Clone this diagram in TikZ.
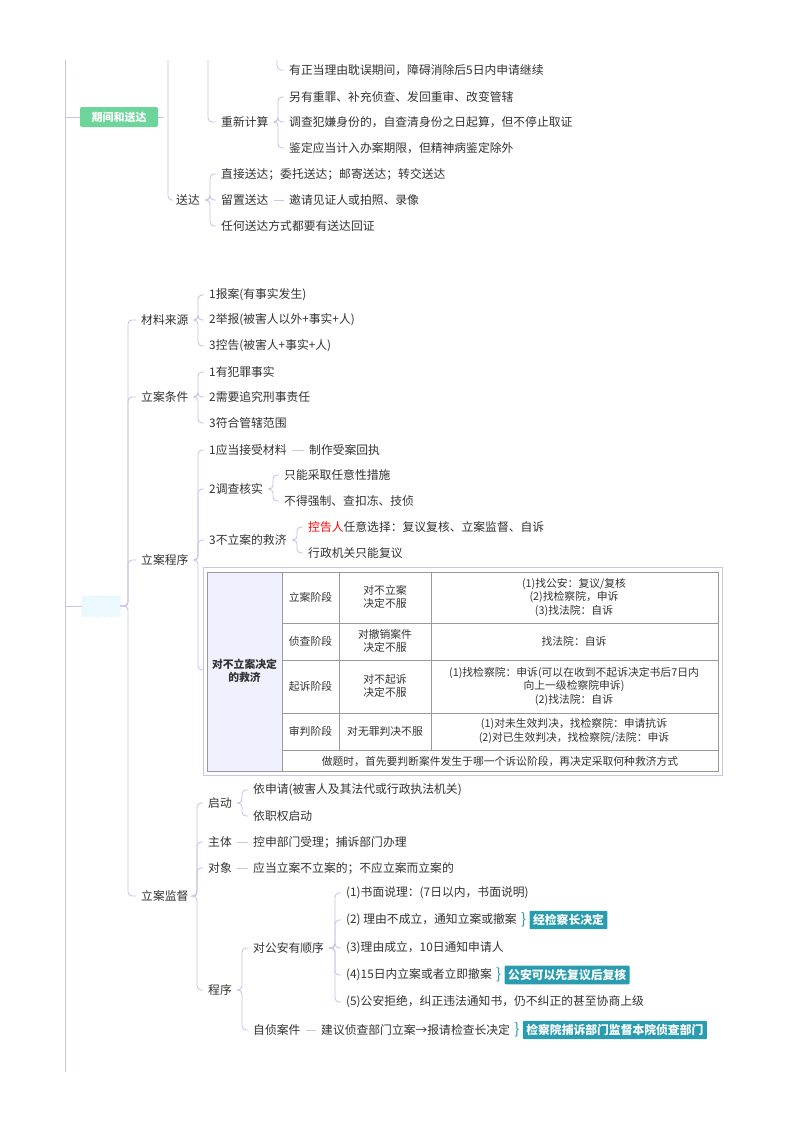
\documentclass[tikz,border=0pt]{standalone}
\usepackage{fontspec}
\setmainfont{Noto Sans CJK SC}
\begin{document}
\begin{tikzpicture}[x=1pt,y=-1pt,
 ln/.style={draw=lav,line width=0.9pt,rounded corners=4pt,shorten >=4pt,shorten <=4pt},
 t/.style={anchor=west,inner sep=1pt,font=\fontsize{11.8}{13}\selectfont,text=txt},
 tag/.style={anchor=west,fill=teal1,text=white,font=\bfseries\fontsize{11.8}{13}\selectfont,inner sep=3.5pt,rounded corners=1pt},
 br/.style={anchor=west,inner sep=0pt,text=teal1,font=\fontsize{15}{15}\selectfont},
 cell/.style={align=center,font=\fontsize{10.8}{13.5}\selectfont,text=txt,inner sep=0pt}]
\definecolor{lav}{HTML}{CBC3E8}
\definecolor{txt}{HTML}{333333}
\definecolor{teal1}{HTML}{2A9CB0}
\definecolor{grn}{HTML}{6DD49A}
\definecolor{tb}{HTML}{999999}
\useasboundingbox[fill=white] (0,0) rectangle (800,1132);
% main spine
\coordinate (top) at (65,60); \coordinate (bot) at (65,1072);
\draw[ln,rounded corners=0,shorten >=0pt,shorten <=0pt] (top) -- (bot);
% branch 1
\node[fill=grn,text=white,font=\bfseries\fontsize{11}{13}\selectfont,minimum width=78pt,minimum height=20pt,rounded corners=2pt] (qj) at (119,117) {期间和送达};
\draw[ln,shorten <=0pt,shorten >=0pt] (65,117) -- (qj.west);
\coordinate (c1) at (168,60); \coordinate (c2) at (208,60); \coordinate (c3) at (277,60);
\node[t] (cx) at (220,122) {重新计算};
\node[t] (sd) at (175,200) {送达};
\node[t] (a0) at (288,70) {有正当理由耽误期间，障碍消除后5日内申请继续};
\draw[ln,shorten <=0pt] (c3) |- (a0.west);
\draw[ln,shorten <=0pt] (c2) |- (cx.west);
\draw[ln,shorten <=0pt] (qj.east) -- (c1 |- qj.east);
\draw[ln,shorten <=0pt] (c1) |- (sd.west);
\node[t] (a1) at (288,97) {另有重罪、补充侦查、发回重审、改变管辖};
\node[t] (a2) at (288,122) {调查犯嫌身份的，自查清身份之日起算，但不停止取证};
\node[t] (a3) at (288,148) {鉴定应当计入办案期限，但精神病鉴定除外};
\foreach \n in {a1,a2,a3} \draw[ln] (cx.east) -- ([xshift=-10pt]\n.west |- cx.east) |- (\n.west);
\node[t] (b1) at (220,174) {直接送达；委托送达；邮寄送达；转交送达};
\node[t] (b2) at (220,200) {留置送达};
\node[t] (b3) at (220,226) {任何送达方式都要有送达回证};
\node[t] (b4) at (288,200) {邀请见证人或拍照、录像};
\foreach \n in {b1,b2,b3} \draw[ln] (sd.east) -- ([xshift=-10pt]\n.west |- sd.east) |- (\n.west);
\draw[ln] (b2.east) -- (b4.west);
% branch 2
\node[fill=cyan!8,draw=cyan!15,dotted,minimum width=38pt,minimum height=20pt] (dn) at (101,606) {};
\draw[ln,shorten <=0pt,shorten >=0pt] (65,606) -- (dn.west);
\node[t] (m1) at (140,320) {材料来源};
\node[t] (m2) at (140,397) {立案条件};
\node[t] (m3) at (140,560) {立案程序};
\node[t] (m4) at (140,896) {立案监督};
\foreach \n in {m1,m2,m3,m4} \draw[ln,shorten <=0pt] (dn.east) -- (128,606) |- (\n.west);
\node[t] (s1) at (208,295) {1报案(有事实发生)};
\node[t] (s2) at (208,320) {2举报(被害人以外+事实+人)};
\node[t] (s3) at (208,346) {3控告(被害人+事实+人)};
\foreach \n in {s1,s2,s3} \draw[ln] (m1.east) -- (198,320) |- (\n.west);
\node[t] (r1) at (208,372) {1有犯罪事实};
\node[t] (r2) at (208,397) {2需要追究刑事责任};
\node[t] (r3) at (208,423) {3符合管辖范围};
\foreach \n in {r1,r2,r3} \draw[ln] (m2.east) -- (198,397) |- (\n.west);
\node[t] (p1) at (208,450) {1应当接受材料};
\node[t] (p2) at (208,489) {2调查核实};
\node[t] (p3) at (208,540) {3不立案的救济};
\coordinate (tbl) at (203,670);
\foreach \n in {p1,p2,p3} \draw[ln] (m3.east) -- (198,560) |- (\n.west);
\draw[ln,shorten >=0pt] (m3.east) -- (198,560) |- (tbl);
\node[t] (p1a) at (308,450) {制作受案回执};
\draw[ln] (p1.east) -- (p1a.west);
\node[t] (p2a) at (283,475) {只能采取任意性措施};
\node[t] (p2b) at (283,501) {不得强制、查扣冻、技侦};
\foreach \n in {p2a,p2b} \draw[ln] (p2.east) -- (273,489) |- (\n.west);
\node[t] (p3a) at (307,527) {\textcolor{red}{控告人}任意选择：复议复核、立案监督、自诉};
\node[t] (p3b) at (307,553) {行政机关只能复议};
\foreach \n in {p3a,p3b} \draw[ln] (p3.east) -- (297,540) |- (\n.west);
% table
\draw[lav,line width=0.8pt] (203,567) rectangle (722,775);
\fill[blue!6] (207,572) rectangle (282,771);
\draw[tb,line width=0.6pt] (207,572) rectangle (718,771);
\foreach \y in {623,660,713,750} \draw[tb,line width=0.6pt] (282,\y) -- (718,\y);
\draw[tb,line width=0.6pt] (282,572) -- (282,771);
\foreach \x in {339,431} \draw[tb,line width=0.6pt] (\x,572) -- (\x,750);
\node[cell,font=\bfseries\fontsize{10.8}{13.5}\selectfont] (h) at (244.5,671) {对不立案决定\\的救济};
\node[cell] (k1) at (310.5,597) {立案阶段};
\node[cell] (k2) at (310.5,641) {侦查阶段};
\node[cell] (k3) at (310.5,686) {起诉阶段};
\node[cell] (k4) at (310.5,731) {审判阶段};
\node[cell] (d1) at (385,597) {对不立案\\决定不服};
\node[cell] (d2) at (385,641) {对撤销案件\\决定不服};
\node[cell] (d3) at (385,686) {对不起诉\\决定不服};
\node[cell] (d4) at (385,731) {对无罪判决不服};
\node[cell] (w1) at (574,597) {(1)找公安：复议/复核\\(2)找检察院，申诉\\(3)找法院：自诉};
\node[cell] (w2) at (574,641) {找法院：自诉};
\node[cell] (w3) at (574,686) {(1)找检察院：申诉(可以在收到不起诉决定书后7日内\\向上一级检察院申诉)\\(2)找法院：自诉};
\node[cell] (w4) at (574,731) {(1)对未生效判决，找检察院：申请抗诉\\(2)对已生效判决，找检察院/法院：申诉};
\node[cell] (w5) at (500,761) {做题时，首先要判断案件发生于哪一个诉讼阶段，再决定采取何种救济方式};
% 立案监督
\node[t] (j1) at (207,803) {启动};
\node[t] (j2) at (207,842) {主体};
\node[t] (j3) at (207,868) {对象};
\node[t] (j4) at (207,990) {程序};
\foreach \n in {j1,j2,j3,j4} \draw[ln] (m4.east) -- (197,896) |- (\n.west);
\node[t] (j1a) at (252,790) {依申请(被害人及其法代或行政执法机关)};
\node[t] (j1b) at (252,816) {依职权启动};
\foreach \n in {j1a,j1b} \draw[ln] (j1.east) -- (242,803) |- (\n.west);
\node[t] (j2a) at (252,842) {控申部门受理；捕诉部门办理};
\draw[ln] (j2.east) -- (j2a.west);
\node[t] (j3a) at (252,868) {应当立案不立案的；不应立案而立案的};
\draw[ln] (j3.east) -- (j3a.west);
\node[t] (g1) at (252,948) {对公安有顺序};
\node[t] (g2) at (252,1030) {自侦案件};
\foreach \n in {g1,g2} \draw[ln] (j4.east) -- (242,990) |- (\n.west);
\node[t] (q1) at (345,893) {(1)书面说理：(7日以内，书面说明)};
\node[t] (q2) at (345,920) {(2) 理由不成立，通知立案或撤案};
\node[t] (q3) at (345,948) {(3)理由成立，10日通知申请人};
\node[t] (q4) at (345,975) {(4)15日内立案或者立即撤案};
\node[t] (q5) at (345,1002) {(5)公安拒绝，纠正违法通知书，仍不纠正的甚至协商上级};
\foreach \n in {q1,q2,q3,q4,q5} \draw[ln] (g1.east) -- (335,948) |- (\n.west);
\node[br] (bq2) at ([xshift=3pt]q2.east) {\}};
\node[tag] (tq2) at ([xshift=3pt]bq2.east) {经检察长决定};
\node[br] (bq4) at ([xshift=3pt]q4.east) {\}};
\node[tag] (tq4) at ([xshift=3pt]bq4.east) {公安可以先复议后复核};
\node[t] (g2a) at (320,1030) {建议侦查部门立案→报请检查长决定};
\draw[ln] (g2.east) -- (g2a.west);
\node[br] (bg2) at ([xshift=3pt]g2a.east) {\}};
\node[tag] (tg2) at ([xshift=3pt]bg2.east) {检察院捕诉部门监督本院侦查部门};
\end{tikzpicture}
\end{document}
